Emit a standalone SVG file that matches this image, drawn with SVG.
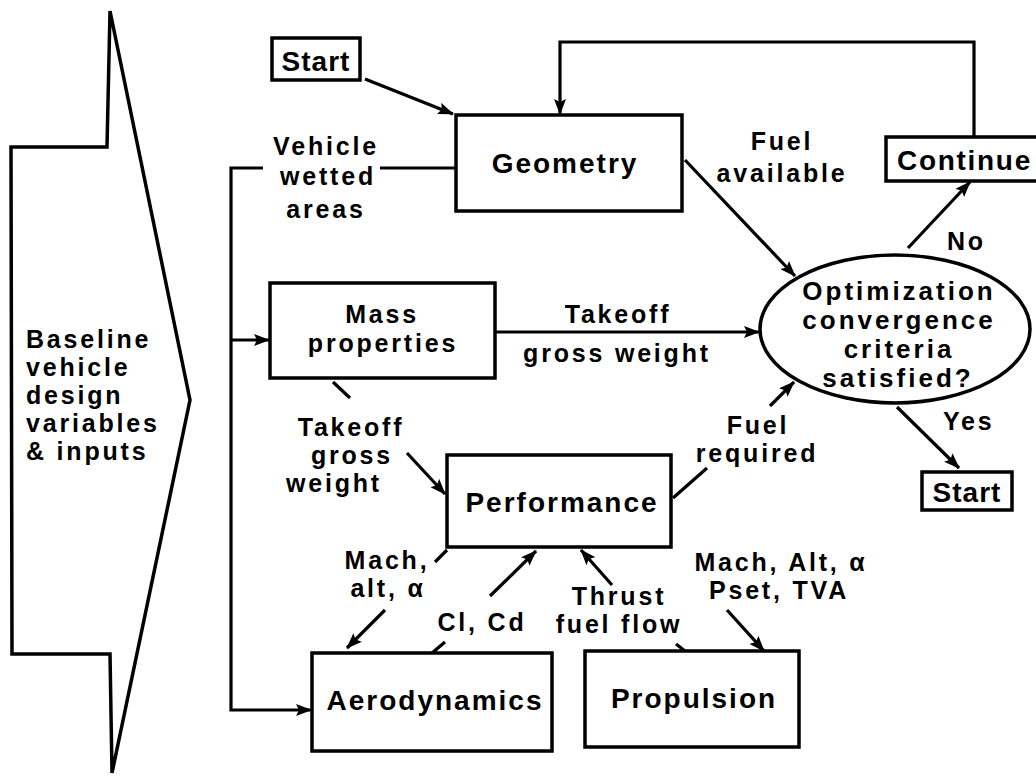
<svg xmlns="http://www.w3.org/2000/svg" width="1036" height="784" viewBox="0 0 1036 784">
<defs>
<style>
text{font-family:"Liberation Sans",Arial,Helvetica,sans-serif;font-weight:bold;fill:#000}
.t{font-size:28px;letter-spacing:2px;text-anchor:middle}
.e{font-size:26px;letter-spacing:3px;text-anchor:middle}
.l{font-size:25px;letter-spacing:2.8px;text-anchor:middle}
.ls{font-size:25px;letter-spacing:2.8px}
.box{fill:#fff;stroke:#000;stroke-width:3.5}
.c{fill:none;stroke:#000;stroke-width:3.2;stroke-linejoin:miter}
.a{marker-end:url(#ah)}
</style>
<marker id="ah" markerUnits="userSpaceOnUse" markerWidth="16" markerHeight="12" refX="15" refY="6" orient="auto">
<path d="M0,0 L16,6 L0,12 L3,6 z" fill="#000"/>
</marker>
</defs>
<rect width="1036" height="784" fill="#fff"/>

<g id="baseline-inputs">
<polygon class="box" points="110,11 107,147 11,147 12,654 110,654 112,773 190,400"/>
<text class="ls" x="26" y="348">Baseline</text>
<text class="ls" x="26" y="376">vehicle</text>
<text class="ls" x="26" y="404">design</text>
<text class="ls" x="26" y="432">variables</text>
<text class="ls" x="26" y="460">&amp; inputs</text>
</g>

<g id="connectors">
<line class="c a" x1="365" y1="79" x2="453" y2="114"/>
<polyline class="c a" points="974,137 974,42 560,42 560,114"/>
<line class="c" x1="380" y1="168" x2="456" y2="168"/>
<polyline class="c a" points="263,168 231,168 231,710 311,710"/>
<line class="c a" x1="231" y1="340" x2="269" y2="340"/>
<line class="c a" x1="685" y1="160" x2="795" y2="276"/>
<line class="c a" x1="908" y1="248" x2="970" y2="182"/>
<line class="c a" x1="495" y1="332" x2="759" y2="332"/>
<line class="c" x1="333" y1="382" x2="350" y2="398"/>
<line class="c a" x1="407" y1="453" x2="445" y2="494"/>
<line class="c" x1="673" y1="498" x2="707" y2="468"/>
<line class="c a" x1="770" y1="406" x2="794" y2="382"/>
<line class="c a" x1="897" y1="407" x2="959" y2="468"/>
<line class="c" x1="447" y1="550" x2="435" y2="562"/>
<line class="c a" x1="385" y1="610" x2="347" y2="648"/>
<line class="c a" x1="490" y1="596" x2="536" y2="551"/>
<line class="c" x1="445" y1="642" x2="432" y2="653"/>
<line class="c a" x1="612" y1="585" x2="581" y2="550"/>
<line class="c" x1="676" y1="644" x2="685" y2="651"/>
<line class="c a" x1="727" y1="610" x2="764" y2="651"/>
</g>

<g id="start-top">
<rect class="box" x="272" y="38" width="88" height="42"/>
<text class="t" style="letter-spacing:1px" x="316" y="71">Start</text>
</g>

<g id="geometry">
<rect class="box" x="456" y="115" width="226" height="96"/>
<text class="t" x="565" y="173">Geometry</text>
</g>

<g id="label-wetted">
<text class="l" x="326" y="155">Vehicle</text>
<text class="l" x="328" y="185">wetted</text>
<text class="l" x="326" y="218">areas</text>
</g>

<g id="label-fuel-available">
<text class="l" x="782" y="150">Fuel</text>
<text class="l" x="782" y="182">available</text>
</g>

<g id="continue">
<rect class="box" x="886" y="137" width="156" height="44"/>
<text class="t" style="text-anchor:start;letter-spacing:1.7px" x="897" y="170">Continue</text>
</g>

<g id="label-no">
<text class="ls" x="947" y="250">No</text>
</g>

<g id="mass-properties">
<rect class="box" x="270" y="283" width="225" height="95"/>
<text class="l" x="382" y="323">Mass</text>
<text class="l" x="383" y="352">properties</text>
</g>

<g id="label-tgw-top">
<text class="l" x="618" y="323">Takeoff</text>
<text class="l" x="617" y="362">gross weight</text>
</g>

<g id="optimization">
<ellipse class="box" cx="895" cy="329" rx="135" ry="74"/>
<text class="e" x="899" y="300">Optimization</text>
<text class="e" x="899" y="329">convergence</text>
<text class="e" x="899" y="358">criteria</text>
<text class="e" x="898" y="387">satisfied?</text>
</g>

<g id="label-tgw-left">
<text class="l" x="351" y="436">Takeoff</text>
<text class="l" x="352" y="464">gross</text>
<text class="l" x="334" y="492">weight</text>
</g>

<g id="label-fuel-required">
<text class="l" x="758" y="434">Fuel</text>
<text class="l" x="757" y="462">required</text>
</g>

<g id="label-yes">
<text class="ls" x="943" y="430">Yes</text>
</g>

<g id="start-bottom">
<rect class="box" x="922" y="472" width="90" height="38"/>
<text class="t" style="letter-spacing:1px" x="967" y="502">Start</text>
</g>

<g id="performance">
<rect class="box" x="447" y="455" width="224" height="92"/>
<text class="t" x="562" y="512">Performance</text>
</g>

<g id="label-mach-alt">
<text class="l" x="387" y="569">Mach,</text>
<text class="l" x="388" y="597">alt, α</text>
</g>

<g id="label-cl-cd">
<text class="l" x="482" y="631">Cl, Cd</text>
</g>

<g id="label-thrust">
<text class="l" x="619" y="605">Thrust</text>
<text class="l" x="619" y="633">fuel flow</text>
</g>

<g id="label-pset">
<text class="l" x="781" y="571">Mach, Alt, α</text>
<text class="l" x="779" y="599">Pset, TVA</text>
</g>

<g id="aerodynamics">
<rect class="box" x="312" y="653" width="240" height="98"/>
<text class="t" x="435" y="710">Aerodynamics</text>
</g>

<g id="propulsion">
<rect class="box" x="585" y="651" width="214" height="96"/>
<text class="t" x="694" y="708">Propulsion</text>
</g>
</svg>
